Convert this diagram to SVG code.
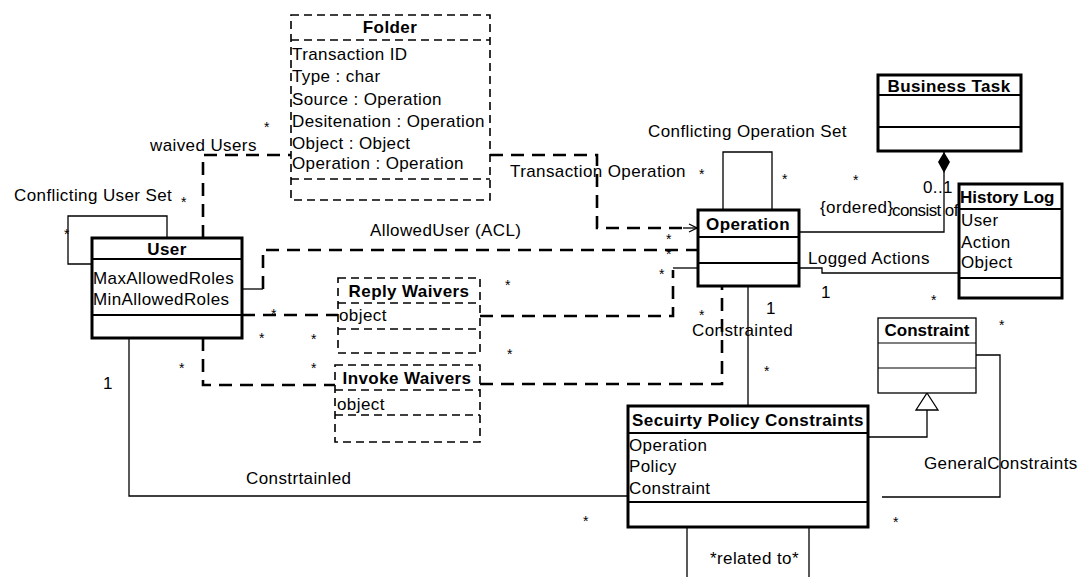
<svg xmlns="http://www.w3.org/2000/svg" width="1079" height="577" viewBox="0 0 1079 577">
  <style>
    text { font-family: "Liberation Sans", Arial, sans-serif; font-size: 17px; letter-spacing: 0.4px; fill: #000; }
    .title { font-weight: bold; text-anchor: middle; }
    .attr { text-anchor: start; }
    .lbl { font-size: 17px; }
    .mult { font-size: 14px; letter-spacing: 0; }
    .thick { fill: #fff; stroke: #000; stroke-width: 3; }
    .thin { fill: #fff; stroke: #000; stroke-width: 1.3; }
    .dbox { fill: #fff; stroke: #000; stroke-width: 1.6; stroke-dasharray: 8 5; }
    .div { stroke: #000; stroke-width: 2; }
    .divthin { stroke: #000; stroke-width: 1.2; }
    .ddiv { stroke: #000; stroke-width: 1.6; stroke-dasharray: 8 5; }
    .assoc { fill: none; stroke: #000; stroke-width: 1.3; }
    .dash { fill: none; stroke: #000; stroke-width: 2.6; stroke-dasharray: 13 8; }
  </style>
  <defs>
    <marker id="open-arrow" markerWidth="10" markerHeight="10" refX="9" refY="5" orient="auto" markerUnits="userSpaceOnUse">
      <path d="M1,1 L9,5 L1,9" fill="none" stroke="#000" stroke-width="1.3"/>
    </marker>
    <marker id="comp" markerWidth="14" markerHeight="24" refX="7" refY="1" orient="0" markerUnits="userSpaceOnUse">
      <path d="M7,1 L13,11 L7,22 L1,11 Z" fill="#000"/>
    </marker>
  </defs>

  <!-- connectors -->
  <g id="connectors">
    <!-- Conflicting User Set (self association) -->
    <polyline class="assoc" points="92,264 68,264 68,216 167,216 167,238"/>
    <!-- waived Users -->
    <polyline class="dash" points="203,238 203,155 291,155"/>
    <!-- Transaction Operation -->
    <polyline class="dash" points="490,155 597,155 597,228 690,228"/>
    <line x1="683" y1="228" x2="697" y2="228" stroke="#000" stroke-width="1.3" marker-end="url(#open-arrow)"/>
    <!-- Conflicting Operation Set (self association) -->
    <polyline class="assoc" points="723,210 723,152 772,152 772,210"/>
    <!-- consist of (composition with Business Task) -->
    <polyline class="assoc" points="800,232 944,232 944,152" marker-end="url(#comp)"/>
    <!-- Logged Actions -->
    <polyline class="assoc" points="800,268 822,268 822,273 959,273"/>
    <!-- AllowedUser (ACL) -->
    <polyline class="assoc" points="242,289 263,289"/>
    <polyline class="dash" points="263,289 263,250 698,250"/>
    <!-- Reply Waivers -->
    <polyline class="dash" points="242,315 338,315"/>
    <polyline class="dash" points="480,316 673,316 673,270"/>
    <polyline class="assoc" points="673,268 698,268"/>
    <!-- Invoke Waivers -->
    <polyline class="dash" points="203,338 203,385 335,385"/>
    <polyline class="dash" points="480,384 722,384 722,286"/>
    <!-- Constrainted (Operation to Secuirty Policy Constraints) -->
    <line class="assoc" x1="748" y1="287" x2="748" y2="406"/>
    <!-- Constrainted (User to Secuirty Policy Constraints) -->
    <polyline class="assoc" points="129,338 129,496 628,496"/>
    <!-- generalization to Constraint -->
    <polyline class="assoc" points="869,437 927,437 927,410"/>
    <path d="M927,393 L938,410 L916,410 Z" fill="#fff" stroke="#000" stroke-width="1.3"/>
    <!-- GeneralConstraints -->
    <polyline class="assoc" points="976,355 1000,355 1000,497 882,497"/>
    <!-- related to (self association) -->
    <polyline class="assoc" points="687,527 687,577"/>
    <polyline class="assoc" points="809,527 809,577"/>
  </g>

  <!-- Folder -->
  <g id="folder">
    <rect class="dbox" x="291" y="15" width="199" height="185"/>
    <line class="ddiv" x1="291" y1="40" x2="490" y2="40"/>
    <line class="ddiv" x1="291" y1="179" x2="490" y2="179"/>
    <text class="title" x="390" y="33">Folder</text>
    <text class="attr" x="292" y="60">Transaction ID</text>
    <text class="attr" x="292" y="82">Type : char</text>
    <text class="attr" x="292" y="105">Source : Operation</text>
    <text class="attr" x="292" y="127">Desitenation : Operation</text>
    <text class="attr" x="292" y="149">Object : Object</text>
    <text class="attr" x="292" y="169">Operation : Operation</text>
  </g>

  <!-- User -->
  <g id="user">
    <rect class="thick" x="92" y="238" width="150" height="100"/>
    <line class="div" x1="92" y1="259" x2="242" y2="259"/>
    <line class="div" x1="92" y1="315" x2="242" y2="315"/>
    <text class="title" x="167" y="255">User</text>
    <text class="attr" x="93" y="284">MaxAllowedRoles</text>
    <text class="attr" x="93" y="305">MinAllowedRoles</text>
  </g>

  <!-- Operation -->
  <g id="operation">
    <rect class="thick" x="698" y="210" width="101" height="76"/>
    <line class="div" x1="698" y1="237" x2="799" y2="237"/>
    <line class="div" x1="698" y1="263" x2="799" y2="263"/>
    <text class="title" x="748" y="230">Operation</text>
  </g>

  <!-- Business Task -->
  <g id="business-task">
    <rect class="thick" x="878" y="75" width="143" height="76"/>
    <line class="div" x1="878" y1="95" x2="1021" y2="95"/>
    <line class="div" x1="878" y1="127" x2="1021" y2="127"/>
    <text class="title" x="949" y="92">Business Task</text>
  </g>

  <!-- History Log -->
  <g id="history-log">
    <rect class="thick" x="959" y="184" width="103" height="114"/>
    <line class="div" x1="959" y1="209" x2="1062" y2="209"/>
    <line class="div" x1="959" y1="278" x2="1062" y2="278"/>
    <text x="960" y="203" style="font-weight:bold;letter-spacing:0">History Log</text>
    <text class="attr" x="961" y="226">User</text>
    <text class="attr" x="961" y="248">Action</text>
    <text class="attr" x="961" y="268">Object</text>
  </g>

  <!-- Reply Waivers -->
  <g id="reply-waivers">
    <rect class="dbox" x="338" y="278" width="142" height="75"/>
    <line class="ddiv" x1="338" y1="303" x2="480" y2="303"/>
    <line class="ddiv" x1="338" y1="329" x2="480" y2="329"/>
    <text class="title" x="409" y="297">Reply Waivers</text>
    <text class="attr" x="339" y="321">object</text>
  </g>

  <!-- Invoke Waivers -->
  <g id="invoke-waivers">
    <rect class="dbox" x="335" y="365" width="145" height="77"/>
    <line class="ddiv" x1="335" y1="390" x2="480" y2="390"/>
    <line class="ddiv" x1="335" y1="415" x2="480" y2="415"/>
    <text class="title" x="407" y="384">Invoke Waivers</text>
    <text class="attr" x="337" y="410">object</text>
  </g>

  <!-- Constraint -->
  <g id="constraint">
    <rect class="thin" x="878" y="318" width="98" height="75"/>
    <line class="divthin" x1="878" y1="343" x2="976" y2="343"/>
    <line class="divthin" x1="878" y1="368" x2="976" y2="368"/>
    <text class="title" x="927" y="336" style="letter-spacing:0">Constraint</text>
  </g>

  <!-- Secuirty Policy Constraints -->
  <g id="security-policy-constraints">
    <rect class="thick" x="628" y="406" width="240" height="121"/>
    <line class="div" x1="628" y1="433" x2="868" y2="433"/>
    <line class="div" x1="628" y1="502" x2="868" y2="502"/>
    <text class="title" x="748" y="426">Secuirty Policy Constraints</text>
    <text class="attr" x="629" y="451">Operation</text>
    <text class="attr" x="629" y="472">Policy</text>
    <text class="attr" x="629" y="494">Constraint</text>
  </g>

  <!-- association labels -->
  <g id="labels">
    <text class="lbl" x="14" y="201">Conflicting User Set</text>
    <text class="lbl" x="150" y="151">waived Users</text>
    <text class="lbl" x="510" y="177">Transaction Operation</text>
    <text class="lbl" x="648" y="137">Conflicting Operation Set</text>
    <text class="lbl" x="820" y="213">{ordered}</text>
    <text class="lbl" x="892" y="216" style="letter-spacing:-0.6px">consist of</text>
    <text class="lbl" x="923" y="193">0..1</text>
    <text class="lbl" x="370" y="236">AllowedUser (ACL)</text>
    <text class="lbl" x="808" y="264">Logged Actions</text>
    <text class="lbl" x="692" y="336">Constrainted</text>
    <text class="lbl" x="246" y="484">Constrtainled</text>
    <text class="lbl" x="924" y="469">GeneralConstraints</text>
    <text class="lbl" x="710" y="564">*related to*</text>
    <!-- multiplicities -->
    <text class="lbl" x="103" y="389">1</text>
    <text class="lbl" x="821" y="298">1</text>
    <text class="lbl" x="766" y="314">1</text>
    <text class="mult" x="264" y="132">*</text>
    <text class="mult" x="181" y="207">*</text>
    <text class="mult" x="64" y="239">*</text>
    <text class="mult" x="699" y="179">*</text>
    <text class="mult" x="782" y="184">*</text>
    <text class="mult" x="853" y="185">*</text>
    <text class="mult" x="666" y="244">*</text>
    <text class="mult" x="666" y="259">*</text>
    <text class="mult" x="659" y="279">*</text>
    <text class="mult" x="505" y="290">*</text>
    <text class="mult" x="507" y="359">*</text>
    <text class="mult" x="271" y="319">*</text>
    <text class="mult" x="259" y="343">*</text>
    <text class="mult" x="311" y="344">*</text>
    <text class="mult" x="179" y="373">*</text>
    <text class="mult" x="311" y="373">*</text>
    <text class="mult" x="699" y="320">*</text>
    <text class="mult" x="764" y="376">*</text>
    <text class="mult" x="931" y="305">*</text>
    <text class="mult" x="999" y="330">*</text>
    <text class="mult" x="893" y="527">*</text>
    <text class="mult" x="583" y="526">*</text>
  </g>
</svg>
